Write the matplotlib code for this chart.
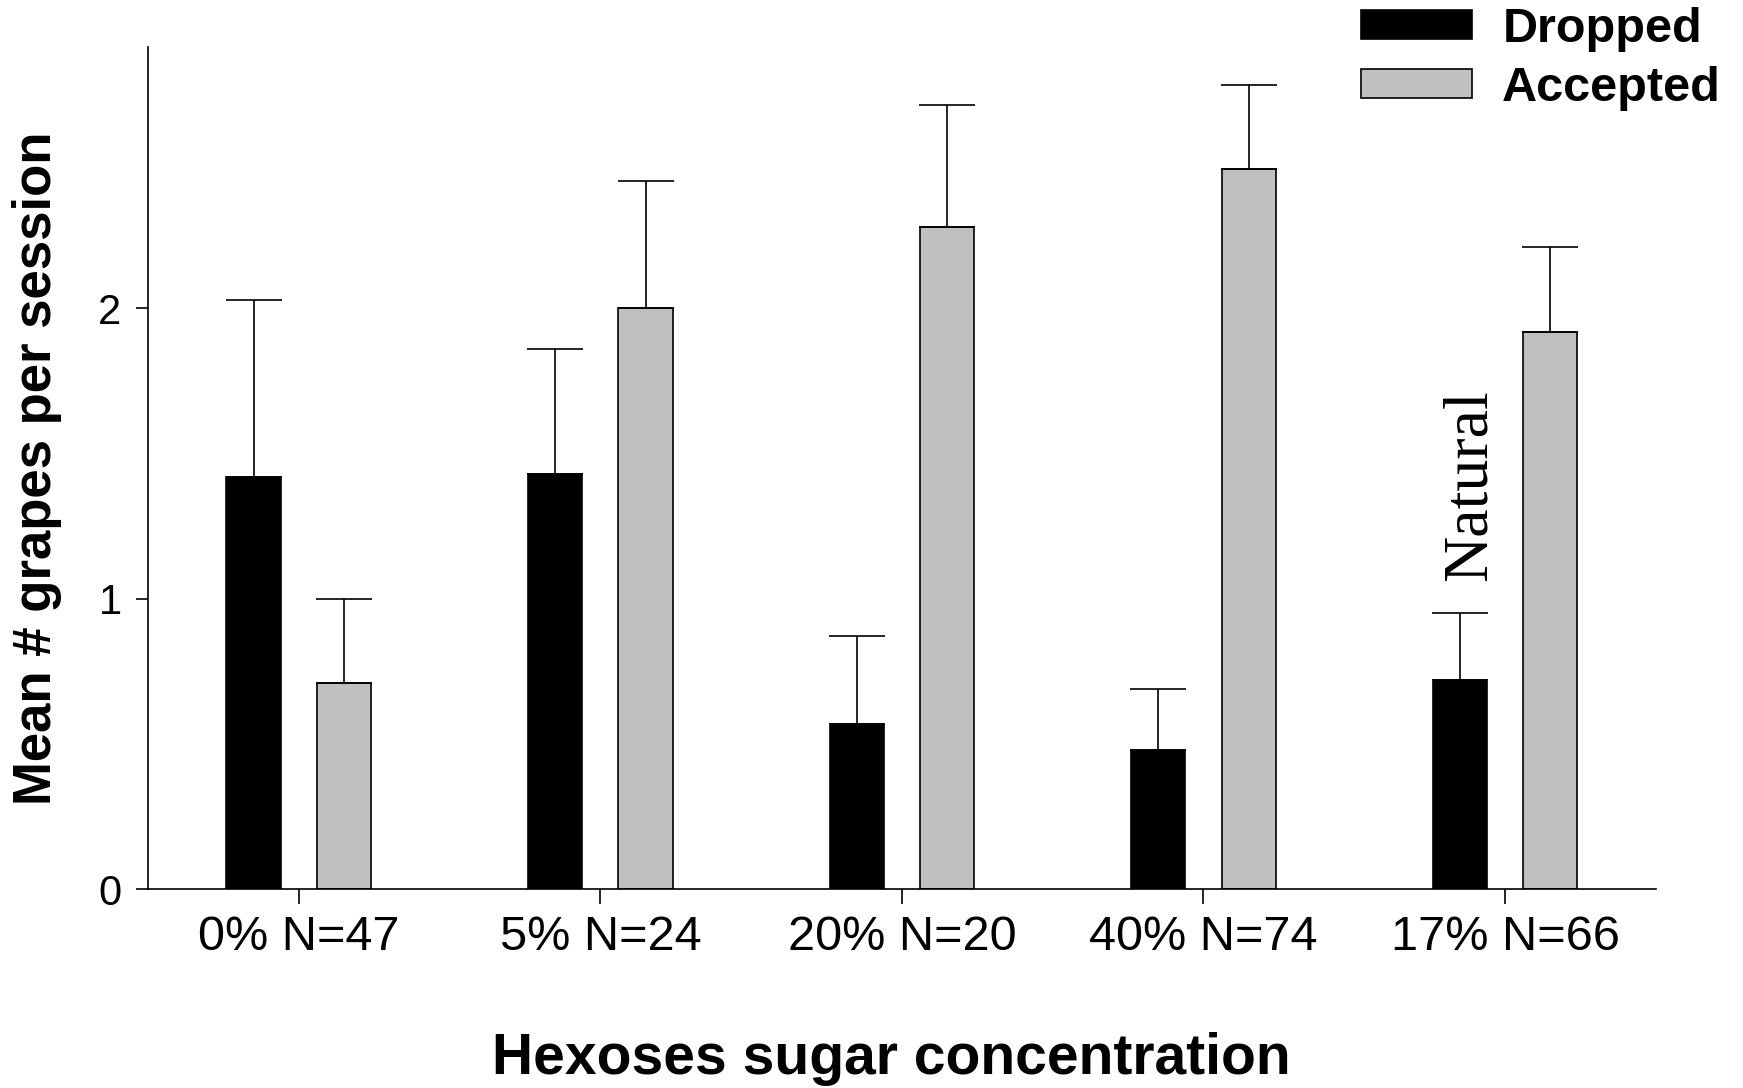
import matplotlib
matplotlib.use("Agg")
import matplotlib.pyplot as plt
import numpy as np

plt.rcParams['font.family'] = ['Liberation Sans', 'DejaVu Sans']

# data
groups = ['0% N=47', '5% N=24', '20% N=20', '40% N=74', '17% N=66']
dropped = [1.42, 1.43, 0.57, 0.48, 0.72]
dropped_err = [0.61, 0.43, 0.30, 0.21, 0.23]
accepted = [0.71, 2.00, 2.28, 2.48, 1.92]
accepted_err = [0.29, 0.44, 0.42, 0.29, 0.29]

fig = plt.figure(figsize=(17.43, 10.88), dpi=100)
ax = fig.add_axes([0.0849, 0.1829, 0.8651, 0.7739])

x = np.arange(len(groups))
w = 0.18
off = 0.15

err_kw = dict(ecolor='black', elinewidth=1.2, capsize=20, capthick=1.2)
b1 = ax.bar(x - off, dropped, w, color='black', edgecolor='black', linewidth=1.2,
            yerr=[np.zeros(len(x)), dropped_err], error_kw=err_kw, label='Dropped')
b2 = ax.bar(x + off, accepted, w, color='#c0c0c0', edgecolor='black', linewidth=1.2,
            yerr=[np.zeros(len(x)), accepted_err], error_kw=err_kw, label='Accepted')

ax.set_xlim(-0.5, 4.5)
ax.set_ylim(0, 2.9)
ax.set_xticks(x)
ax.set_xticklabels(groups, fontsize=35)
ax.set_yticks([0, 1, 2])
ax.set_yticklabels(['0', '1', '2'], fontsize=30)
ax.tick_params(axis='x', direction='out', length=11, width=1.2, pad=8)
ax.tick_params(axis='y', direction='out', length=9, width=1.2, pad=10)

for s in ['top', 'right']:
    ax.spines[s].set_visible(False)
for s in ['left', 'bottom']:
    ax.spines[s].set_linewidth(1.2)

ax.set_ylabel('Mean # grapes per session', fontsize=38, fontweight='bold', va='center')
ax.yaxis.set_label_coords(-0.0736, 0.5)
ax.set_xlabel('Hexoses sugar concentration', fontsize=41, fontweight='bold', va='center')
ax.xaxis.set_label_coords(0.493, -0.202)

ax.text(3.886, 1.39, 'Natural', rotation=90, ha='center', va='center',
        fontsize=46, family=['Liberation Serif', 'DejaVu Serif'])

fig.legend(handles=[b1, b2], labels=['Dropped', 'Accepted'],
           loc='upper left', bbox_to_anchor=(0.781, 0.994), frameon=False,
           prop={'size': 35, 'weight': 'bold'}, handlelength=2.28, handleheight=0.53,
           handletextpad=0.62, labelspacing=0.29, borderaxespad=0, borderpad=0)

fig.savefig('out.png', dpi=100)
